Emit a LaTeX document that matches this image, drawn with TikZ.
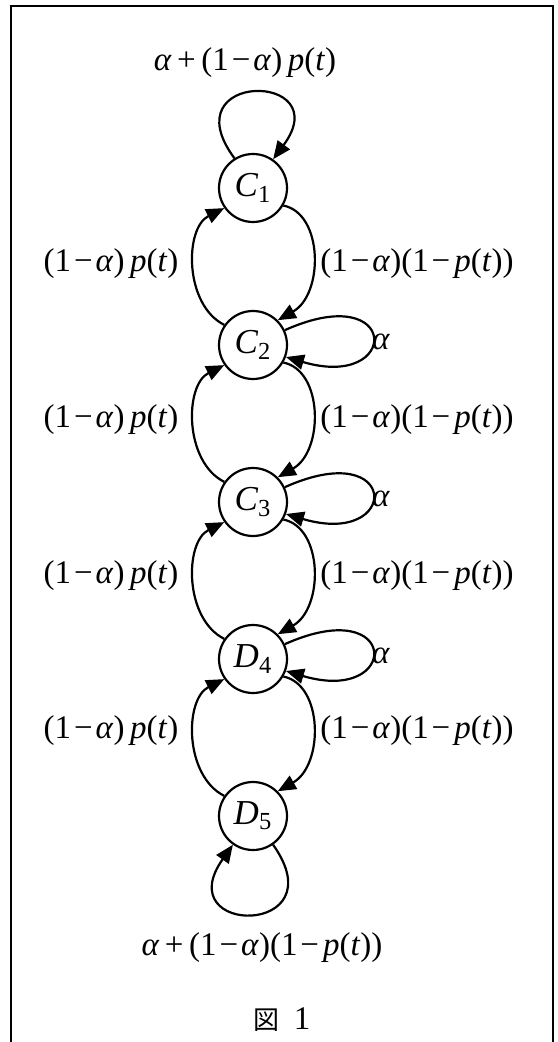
\documentclass[tikz,border=0pt]{standalone}
\usepackage{fontspec}
\setmainfont{Liberation Serif}
\newfontfamily\cjk{Noto Sans CJK JP}
\usepackage{tikz}
\usetikzlibrary{arrows.meta}

\newcommand{\leftprob}{(1\kern1.5pt−\kern1.5pt\textit{α})\,\textit{p}(\textit{t})}
\newcommand{\rightprob}{(1\kern1.5pt−\kern1.5pt\textit{α})(1\kern1.5pt−\kern2pt\textit{p}(\textit{t}))}
\newcommand{\stname}[2]{\textit{#1}\textsubscript{#2}}

\begin{document}
\begin{tikzpicture}[x=0.5pt, y=-0.5pt, every node/.style={font=\fontsize{16.5}{19}\selectfont},
    stnode/.style={draw, circle, line width=1.1pt, minimum size=34pt, inner sep=0pt,
      font=\fontsize{17.5}{20}\selectfont},
    trans/.style={line width=1.1pt, -{Triangle[length=9pt, width=7.5pt]}}]
  \useasboundingbox (0,0) rectangle (557,1042);
  % Frame
  \draw[line width=1.1pt] (11,1042) -- (11,6) -- (553,6) -- (553,1042);
  % States
  \node[stnode] (c1) at (253,188) {\stname{C}{1}};
  \node[stnode] (c2) at (253,345) {\stname{C}{2}};
  \node[stnode] (c3) at (253,502) {\stname{C}{3}};
  \node[stnode] (d4) at (253,659) {\stname{D}{4}};
  \node[stnode] (d5) at (253,816) {\stname{D}{5}};
  % Loops at the ends
  \draw[trans] (c1.122) .. controls +(-65,-88) and +(65,-88) .. (c1.55);
  \node (topl) at (245,63) {\textit{α}\,+\,\leftprob};
  \draw[trans] (d5.-55) .. controls +(65,92) and +(-65,92) .. (d5.-125);
  \node (botl) at (262,948) {\textit{α}\,+\,\rightprob};
  % Downward arcs
  \draw[trans] (c1.-30) .. controls +(40,8) and +(46,-26) .. (c2.45);
  \draw[trans] (c2.-30) .. controls +(40,8) and +(46,-26) .. (c3.45);
  \draw[trans] (c3.-30) .. controls +(40,8) and +(46,-26) .. (d4.45);
  \draw[trans] (d4.-30) .. controls +(40,8) and +(46,-26) .. (d5.45);
  % Upward arcs
  \draw[trans] (c2.145) .. controls +(-40,-20) and +(-40,20) .. (c1.215);
  \draw[trans] (c3.145) .. controls +(-40,-20) and +(-40,20) .. (c2.215);
  \draw[trans] (d4.145) .. controls +(-40,-20) and +(-40,20) .. (c3.215);
  \draw[trans] (d5.145) .. controls +(-40,-20) and +(-40,20) .. (d4.215);
  % Self loops
  \draw[trans] (c2.25) .. controls +(116,-52) and +(115,34) .. (c2.-20);
  \draw[trans] (c3.25) .. controls +(116,-52) and +(115,34) .. (c3.-20);
  \draw[trans] (d4.25) .. controls +(116,-52) and +(115,34) .. (d4.-20);
  \node (a2) at (381,342) {\textit{α}};
  \node (a3) at (381,499) {\textit{α}};
  \node (a4) at (381,656) {\textit{α}};
  % Labels
  \node (l12) at (111,264) {\leftprob};
  \node (r12) at (417,264) {\rightprob};
  \node (l23) at (111,420) {\leftprob};
  \node (r23) at (417,420) {\rightprob};
  \node (l34) at (111,576) {\leftprob};
  \node (r34) at (417,576) {\rightprob};
  \node (l45) at (111,731) {\leftprob};
  \node (r45) at (417,731) {\rightprob};
  % Caption
  \node (cap) at (282,1020) {{\cjk\fontsize{13}{15}\selectfont 図}\hspace{7pt}1};
\end{tikzpicture}
\end{document}
